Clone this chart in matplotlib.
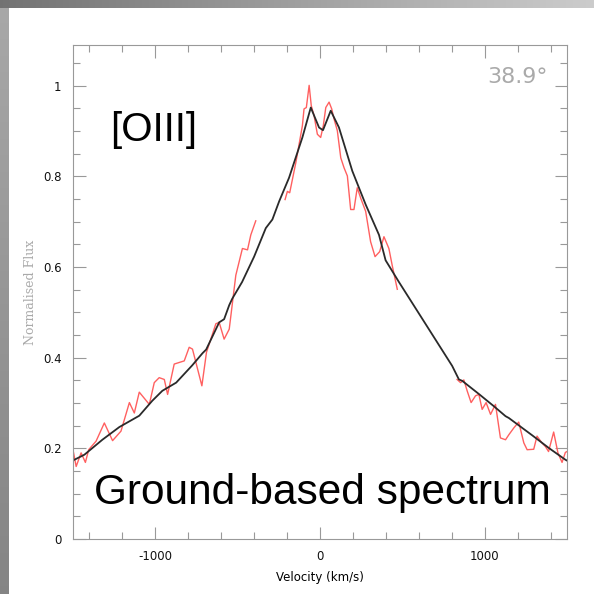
# [OIII] line profile, ground-based spectrum vs model
import numpy as np
import matplotlib.pyplot as plt
from matplotlib.ticker import MultipleLocator

# model (black), velocity in km/s
mod_v = [-1500, -1429, -1320, -1217, -1096, -1017, -956, -872, -775, -712, -690, -611,
         -581, -550, -532, -472, -399, -328, -288, -247, -187, -106, -55, -5, 19, 66,
         116, 197, 278, 359, 399, 480, 803, 844, 864, 965, 1056, 1127, 1147, 1288,
         1389, 1490, 1500]
mod_f = [0.173, 0.186, 0.219, 0.247, 0.272, 0.305, 0.327, 0.345, 0.383, 0.410, 0.418, 0.478,
         0.485, 0.516, 0.530, 0.567, 0.623, 0.686, 0.705, 0.745, 0.797, 0.886, 0.952, 0.908, 0.902, 0.945,
         0.908, 0.812, 0.738, 0.671, 0.615, 0.567, 0.382, 0.352, 0.349, 0.320, 0.293, 0.271, 0.267, 0.229,
         0.201, 0.175, 0.173]

# observed (red), three pieces
obs1_v = [-1504, -1479, -1449, -1423, -1403, -1358, -1308, -1258, -1207, -1156, -1126, -1096,
          -1035, -1005, -975, -944, -924, -884, -823, -793, -773, -742, -716, -688, -631,
          -611, -581, -550, -510, -470, -439, -419, -389]
obs1_f = [0.208, 0.160, 0.190, 0.169, 0.197, 0.216, 0.256, 0.217, 0.238, 0.301, 0.278, 0.324,
          0.297, 0.345, 0.356, 0.352, 0.319, 0.386, 0.393, 0.423, 0.419, 0.375, 0.338, 0.412, 0.475,
          0.478, 0.441, 0.463, 0.582, 0.641, 0.638, 0.671, 0.702]

obs2_v = [-211, -197, -183, -146, -106, -96, -82, -65, -52, -35, -15, 5, 21, 36, 56, 72, 86,
          106, 127, 147, 167, 187, 207, 227, 248, 278, 308, 335, 363, 389, 419, 439, 470]
obs2_f = [0.749, 0.767, 0.764, 0.830, 0.912, 0.949, 0.952, 1.001, 0.956, 0.934, 0.893, 0.886,
          0.912, 0.952, 0.964, 0.949, 0.927, 0.901, 0.841, 0.819, 0.801, 0.727, 0.727, 0.775,
          0.752, 0.723, 0.656, 0.623, 0.634, 0.667, 0.641, 0.604, 0.551]

obs3_v = [833, 854, 874, 894, 918, 945, 965, 985, 1009, 1036, 1066, 1096, 1127, 1147, 1177,
          1207, 1238, 1258, 1298, 1318, 1348, 1369, 1388, 1419, 1445, 1470, 1490, 1500]
obs3_f = [0.352, 0.345, 0.351, 0.327, 0.301, 0.316, 0.319, 0.286, 0.301, 0.275, 0.297, 0.223,
          0.219, 0.230, 0.245, 0.258, 0.212, 0.197, 0.198, 0.227, 0.212, 0.204, 0.193, 0.236,
          0.190, 0.169, 0.191, 0.193]

fig = plt.figure(figsize=(5.94, 5.94), dpi=100)

# grey frame strips of the slide
g = np.linspace(0, 1, 256)
left = np.repeat((0.66 - 0.14*g)[:, None, None], 3, axis=2)
top = np.repeat((0.45 + 0.35*g)[None, :, None], 3, axis=2)
axl = fig.add_axes([0, 0, 9/594, 1])
axl.imshow(left, aspect='auto')
axl.axis('off')
axt = fig.add_axes([0, 1 - 8/594, 1, 8/594])
axt.imshow(top, aspect='auto')
axt.axis('off')

ax = fig.add_axes([72.7/594, 1 - 539/594, 494.3/594, 494/594])
ax.plot(obs1_v, obs1_f, color='#ff6060', lw=1.0)
ax.plot(obs2_v, obs2_f, color='#ff6060', lw=1.0)
ax.plot(obs3_v, obs3_f, color='#ff6060', lw=1.0)
ax.plot(mod_v, mod_f, color='#2a2a2a', lw=1.3)

ax.set_xlim(-1500, 1500)
ax.set_ylim(0, 1.09)
ax.set_xticks([-1000, 0, 1000])
ax.set_xticklabels(['-1000', '0', '1000'])
ax.xaxis.set_minor_locator(MultipleLocator(200))
ax.set_yticks([0, 0.2, 0.4, 0.6, 0.8, 1])
ax.set_yticklabels(['0', '0.2', '0.4', '0.6', '0.8', '1'])
ax.yaxis.set_minor_locator(MultipleLocator(0.05))
ax.tick_params(which='both', direction='in', top=True, right=True, color='#999999',
               labelsize=8.5, labelcolor='#111111', width=0.8)
ax.tick_params(which='major', length=9, pad=8)
ax.tick_params(which='minor', length=5)
for s in ax.spines.values():
    s.set_color('#999999')
    s.set_linewidth(0.8)

ax.set_xlabel('Velocity (km/s)', fontsize=8.5, labelpad=6)
ax.set_ylabel('Normalised Flux', fontsize=9, color='#aaaaaa', family='DejaVu Serif', labelpad=4)

ax.text(0.164, 0.828, '[OIII]', transform=ax.transAxes, fontsize=29, family='Liberation Sans',
        ha='center', va='center')
ax.text(0.505, 0.093, 'Ground-based spectrum', transform=ax.transAxes, fontsize=30.5,
        family='Liberation Sans', ha='center', va='center')
ax.text(0.899, 0.935, '38.9°', transform=ax.transAxes, fontsize=16, color='#aaaaaa',
        ha='center', va='center')

plt.savefig('out.png', dpi=100)
